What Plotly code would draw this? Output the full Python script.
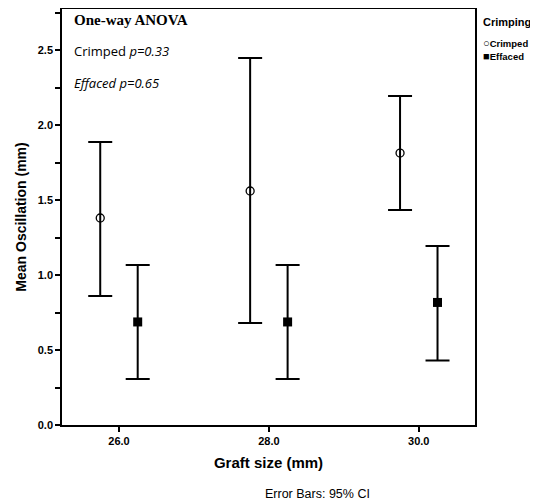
import plotly.graph_objects as go

graft_sizes = [26.0, 28.0, 30.0]
tick_labels = ["26.0", "28.0", "30.0"]
crimped_mean = [1.38, 1.56, 1.813]
crimped_upper = [1.887, 2.447, 2.193]
crimped_lower = [0.86, 0.68, 1.433]
effaced_mean = [0.687, 0.687, 0.817]
effaced_upper = [1.067, 1.067, 1.193]
effaced_lower = [0.307, 0.307, 0.43]

offset = 0.25

def errs(mean, up, lo):
    return [u - m for m, u in zip(mean, up)], [m - l for m, l in zip(mean, lo)]

cu, cl = errs(crimped_mean, crimped_upper, crimped_lower)
eu, el = errs(effaced_mean, effaced_upper, effaced_lower)

# page body has an 8px margin; figure coords = screen coords - 8
W, H = 530, 494
L, R, T, B = 54, 63, 1, 77
PW, PH = W - L - R, H - T - B

def px(x):
    return (x - 8 - L) / PW

def py(y):
    return (H - B - (y - 8)) / PH

fig = go.Figure()
fig.add_trace(go.Scatter(
    x=[g - offset for g in graft_sizes], y=crimped_mean, mode="markers", name="Crimped",
    marker=dict(symbol="circle-open", size=8, color="black", line=dict(width=1.3)),
    error_y=dict(type="data", array=cu, arrayminus=cl, color="black", thickness=2, width=12),
))
fig.add_trace(go.Scatter(
    x=[g + offset for g in graft_sizes], y=effaced_mean, mode="markers", name="Effaced",
    marker=dict(symbol="square", size=9, color="black"),
    error_y=dict(type="data", array=eu, arrayminus=el, color="black", thickness=2, width=12),
))

fig.update_layout(
    width=W, height=H,
    margin=dict(l=L, r=R, t=T, b=B, autoexpand=False),
    paper_bgcolor="white", plot_bgcolor="white",
    font=dict(family="Liberation Sans, Arial", color="black"),
    showlegend=False,
    xaxis=dict(
        range=[25.24, 30.75], tickvals=graft_sizes, ticktext=["<b>%s</b>" % t for t in tick_labels],
        showgrid=False, zeroline=False, showline=True, mirror=True, linecolor="black", linewidth=1.5,
        ticks="outside", ticklen=5, tickwidth=1.5, tickcolor="black", tickfont=dict(size=11),
        title=dict(text="<b>Graft size (mm)</b>", font=dict(size=15), standoff=12),
    ),
    yaxis=dict(
        range=[0, PH / 150], tickvals=[0, 0.5, 1.0, 1.5, 2.0, 2.5],
        ticktext=["<b>0.0</b>", "<b>0.5</b>", "<b>1.0</b>", "<b>1.5</b>", "<b>2.0</b>", "<b>2.5</b>"],
        showgrid=False, zeroline=False, showline=True, mirror=True, linecolor="black", linewidth=1.5,
        ticks="outside", ticklen=5, tickwidth=1.5, tickcolor="black", tickfont=dict(size=11),
        minor=dict(tickvals=[0.25, 0.75, 1.25, 1.75, 2.25, 2.75], ticks="outside", ticklen=5, tickwidth=1.5, tickcolor="black", showgrid=False),
        title=dict(text="<b>Mean Oscillation (mm)</b>", font=dict(size=14), standoff=8),
    ),
    annotations=[
        dict(text="<b>One-way ANOVA</b>", xref="paper", yref="paper", x=px(72), y=py(20),
             xanchor="left", yanchor="middle", showarrow=False,
             font=dict(family="Liberation Serif, Times New Roman", size=15)),
        dict(text="Crimped <i>p=0.33</i>", xref="paper", yref="paper", x=px(72), y=py(51),
             xanchor="left", yanchor="middle", showarrow=False,
             font=dict(family="Open Sans", size=13)),
        dict(text="<i>Effaced p=0.65</i>", xref="paper", yref="paper", x=px(72), y=py(83),
             xanchor="left", yanchor="middle", showarrow=False,
             font=dict(family="Open Sans", size=13)),
        dict(text="Error Bars: 95% CI", xref="paper", yref="paper", x=px(317), y=py(494),
             xanchor="center", yanchor="middle", showarrow=False,
             font=dict(family="Liberation Sans, Arial", size=12.5)),
        dict(text="<b>Crimping</b>", xref="paper", yref="paper", x=px(481), y=py(22),
             xanchor="left", yanchor="middle", showarrow=False,
             font=dict(family="Liberation Sans, Arial", size=11)),
        dict(text="<span style='font-size:11px'>○</span><b>Crimped</b>", xref="paper", yref="paper", x=px(481), y=py(43),
             xanchor="left", yanchor="middle", showarrow=False,
             font=dict(family="Liberation Sans, Arial", size=9.5)),
        dict(text="<span style='font-size:11px'>■</span><b>Effaced</b>", xref="paper", yref="paper", x=px(481), y=py(56),
             xanchor="left", yanchor="middle", showarrow=False,
             font=dict(family="Liberation Sans, Arial", size=9.5)),
    ],
)

fig.write_html("out.html")
